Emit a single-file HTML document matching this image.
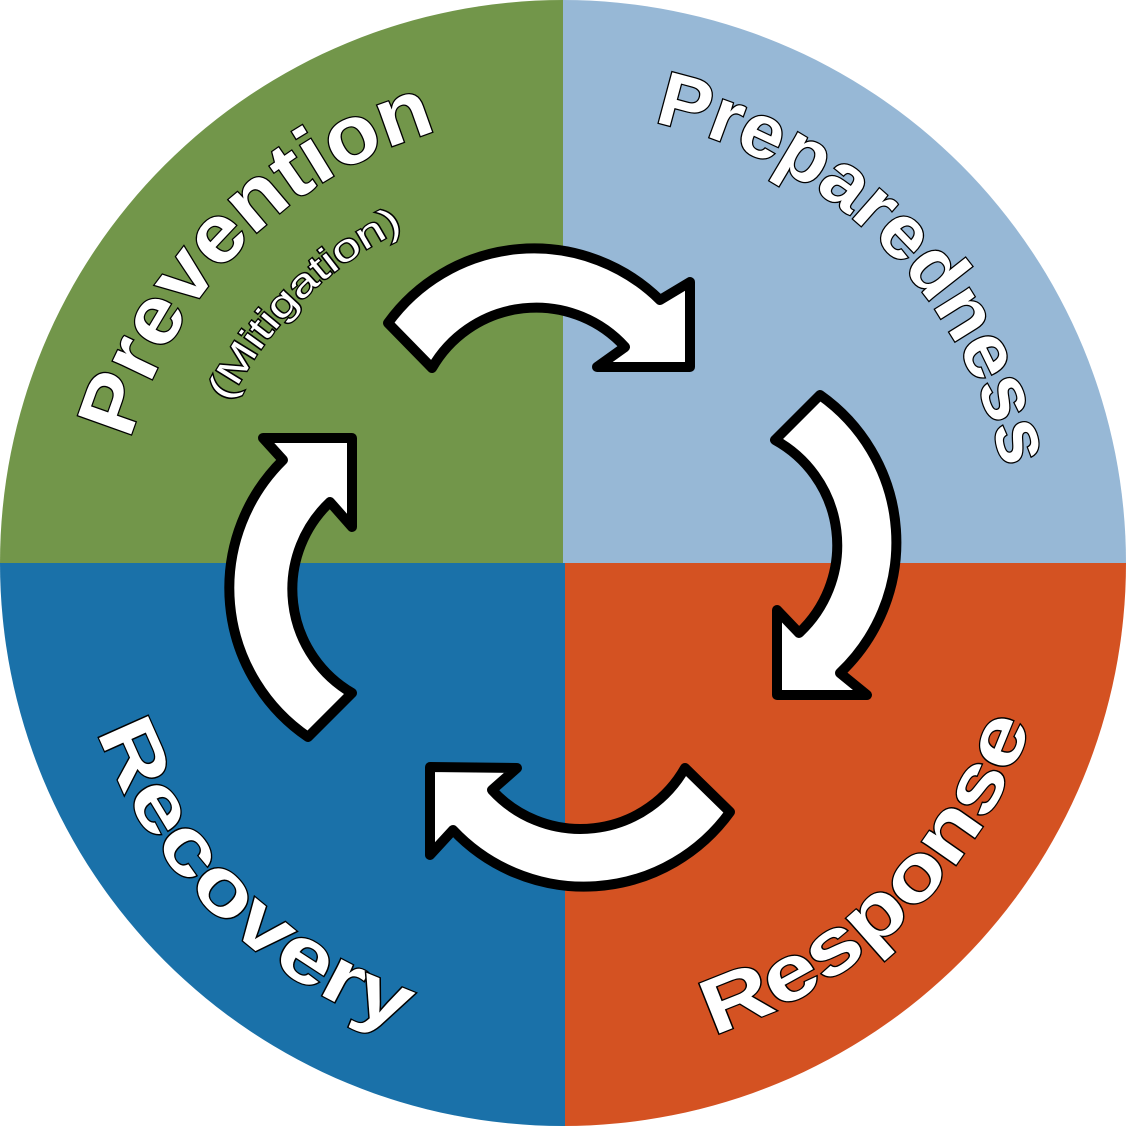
<!DOCTYPE html>
<html><head><meta charset="utf-8"><style>
html,body{margin:0;padding:0;background:#fff;}
svg{display:block;}
text{font-family:"Liberation Sans",sans-serif;font-weight:bold;fill:#fff;stroke:#000;stroke-width:2.5;paint-order:stroke;}
</style></head><body>
<svg width="1126" height="1127" viewBox="0 0 1126 1127" xmlns="http://www.w3.org/2000/svg">
<defs>
<clipPath id="c"><circle cx="563" cy="563" r="563"/></clipPath>
<path id="topArc" d="M 113,563 A 450 450 0 0 1 1013,563"/>
<path id="topArc2" d="M 193,563 A 370 370 0 0 1 933,563"/>
<path id="botArc" d="M 68,563 A 495 495 0 0 0 1058,563"/>
</defs>
<g clip-path="url(#c)">
<rect x="0" y="0" width="563" height="563" fill="#72964a"/>
<rect x="563" y="0" width="563" height="563" fill="#97b8d6"/>
<rect x="564" y="563" width="563" height="564" fill="#d45222"/>
<rect x="0" y="563" width="565" height="564" fill="#1a71a9"/>
</g>
<g fill="#fff" stroke="#000" stroke-width="10" stroke-linejoin="round">
<path d="M 432,368 L 388,323 A 180 180 0 0 1 660,300 L 690,282 L 690,367 L 597,367 L 625,347 A 120 120 0 0 0 432,368 Z"/>
<path d="M 775,440 L 820,395 A 180 180 0 0 1 840,673 L 867,695 L 777,695 L 777,610 L 799,633 A 120 120 0 0 0 775,440 Z"/>
<path d="M 685,768 L 730,812 A 180 180 0 0 1 453,830 L 430,855 L 430,767 L 517,768 L 492,790 A 120 120 0 0 0 685,768 Z"/>
<path d="M 352,693 L 308,737 A 180 180 0 0 1 283,460 L 263,438 L 352,438 L 352,527 L 330,502 A 120 120 0 0 0 352,693 Z"/>
</g>
<text font-size="82"><textPath href="#topArc" startOffset="352" text-anchor="middle" textLength="455" lengthAdjust="spacingAndGlyphs">Prevention</textPath></text>
<text font-size="38" stroke-width="2" style="font-weight:normal"><textPath href="#topArc2" startOffset="291" text-anchor="middle" textLength="250" lengthAdjust="spacingAndGlyphs">(Mitigation)</textPath></text>
<text font-size="76"><textPath href="#topArc" startOffset="1058" text-anchor="middle" textLength="520" lengthAdjust="spacingAndGlyphs">Preparedness</textPath></text>
<text font-size="78"><textPath href="#botArc" startOffset="392" text-anchor="middle" textLength="440" lengthAdjust="spacingAndGlyphs">Recovery</textPath></text>
<text font-size="78"><textPath href="#botArc" startOffset="1160" text-anchor="middle" textLength="460" lengthAdjust="spacingAndGlyphs">Response</textPath></text>
</svg>
</body></html>
